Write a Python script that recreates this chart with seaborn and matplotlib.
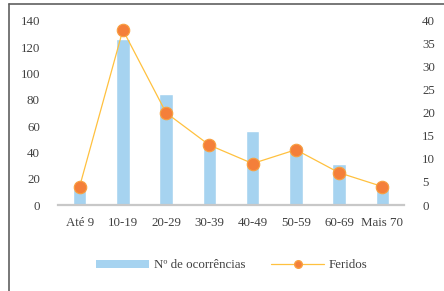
import matplotlib
matplotlib.use("Agg")
import matplotlib.pyplot as plt
import seaborn as sns
import pandas as pd
from matplotlib.lines import Line2D
from matplotlib.patches import Patch

categories = ["Até 9", "10-19", "20-29", "30-39", "40-49", "50-59", "60-69", "Mais 70"]
ocorrencias = [12, 126, 84, 44, 56, 45, 31, 17]
feridos = [4, 38, 20, 13, 9, 12, 7, 4]
left_ticks = [0, 20, 40, 60, 80, 100, 120, 140]
right_ticks = [0, 5, 10, 15, 20, 25, 30, 35, 40]

bar_color = "#A6D3F0"
line_color = "#FFC13F"
marker_color = "#F47F3A"
text_color = "#404040"

sns.set_theme(style="white")
plt.rcParams["font.family"] = ["Liberation Serif", "DejaVu Serif"]
plt.rcParams["font.size"] = 9

df = pd.DataFrame({"cat": categories, "oc": ocorrencias, "fer": feridos})

fig = plt.figure(figsize=(4.44, 2.91), dpi=100)
ax = fig.add_axes([58/444, 1-205/291, (404-58)/444, (205-20.7)/291])

sns.barplot(data=df, x="cat", y="oc", ax=ax, color=bar_color, width=0.31,
            saturation=1, order=categories)
ax.set_ylim(0, 140)
ax.set_yticks(left_ticks)
ax.set_xlim(-0.5, len(categories)-0.5)
ax.set_xlabel("")
ax.set_ylabel("")
for s in ["top", "right", "left"]:
    ax.spines[s].set_visible(False)
ax.spines["bottom"].set_color("#C8C8C8")
ax.spines["bottom"].set_linewidth(1.6)
ax.tick_params(axis="y", length=0, pad=13, colors=text_color, labelsize=9.3)
ax.tick_params(axis="x", length=0, pad=8.5, colors=text_color, labelsize=9.3)

ax2 = ax.twinx()
ax2.plot(range(len(categories)), feridos, color=line_color, lw=0.9, marker="o",
         markersize=9, markerfacecolor=marker_color, markeredgecolor="#F9A040",
         markeredgewidth=0.8, zorder=3)
ax2.set_ylim(0, 40)
ax2.set_yticks(right_ticks)
for s in ["top", "right", "left", "bottom"]:
    ax2.spines[s].set_visible(False)
ax2.tick_params(axis="y", length=0, pad=13, colors=text_color, labelsize=9.3)
ax2.set_ylabel("")

handles = [Patch(facecolor=bar_color, edgecolor="none"),
           Line2D([0], [0], color=line_color, lw=0.9, marker="o", markersize=5.5,
                  markerfacecolor=marker_color, markeredgecolor="#F9A040")]
fig.legend(handles, ["Nº de ocorrências", "Feridos"], loc="center",
           bbox_to_anchor=(232/444, 1-265.5/291), ncol=2, frameon=False,
           handlelength=4.1, handleheight=0.6, columnspacing=2.0,
           handletextpad=0.35, labelcolor=text_color, fontsize=9.3)

fig.add_artist(Line2D([9/444, 9/444], [0, 1-4/291], color="#606060", lw=1.2,
                      transform=fig.transFigure))
fig.add_artist(Line2D([9/444, 1], [1-4/291, 1-4/291], color="#606060", lw=1.2,
                      transform=fig.transFigure))

fig.savefig("out.png", dpi=100)
